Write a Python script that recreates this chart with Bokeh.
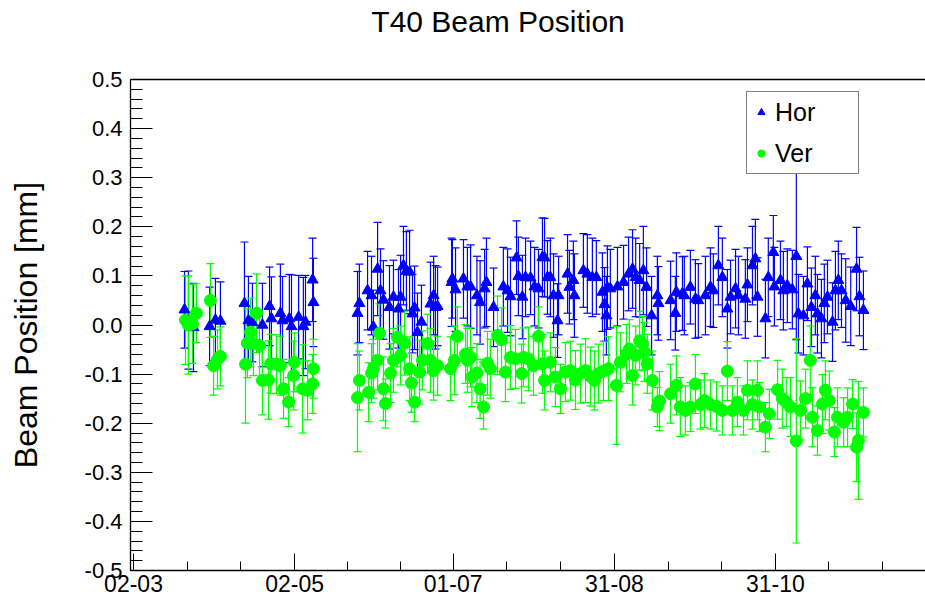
from bokeh.plotting import figure
from bokeh.models import (FixedTicker, Legend, LegendItem, LinearAxis,
                          ColumnDataSource, PrintfTickFormatter, Range1d)
from bokeh.embed import file_html
from bokeh.resources import INLINE

# ---------------- data ----------------
title_text = "T40 Beam Position"
y_label = "Beam Position [mm]"
# days counted from 02-03
x_tick_days = [0, 61, 121, 182, 243]
x_tick_labels = ["02-03", "02-05", "01-07", "31-08", "31-10"]
y_tick_values = [-0.5, -0.4, -0.3, -0.2, -0.1, 0.0, 0.1, 0.2, 0.3, 0.4, 0.5]

hor_day = [19.3, 20.8, 22.7, 28.8, 31.0, 32.9, 42.0, 43.5, 45.0, 48.8, 51.5, 52.2,
           55.6, 56.4, 59.0, 59.8, 62.5, 64.3, 65.1, 67.8, 68.1,
           84.8, 85.5, 88.6, 90.1, 90.8, 92.4, 93.5, 94.6, 96.9, 98.4, 100.3, 101.1,
           102.2, 103.3, 104.5, 105.6, 106.4, 107.5, 109.0, 112.4, 113.6, 114.3, 115.1,
           120.4, 120.7, 121.9, 124.9, 126.4, 127.6, 130.0, 131.2, 132.9, 133.6, 136.3,
           140.0, 141.6, 142.7, 145.0, 145.7, 147.2, 148.4, 150.3, 151.8, 153.3, 154.8,
           155.6, 156.7, 157.8, 159.0, 160.5, 160.9, 164.3, 165.0, 166.5, 166.9, 170.3,
           171.8, 173.7, 175.2, 177.5, 178.3, 179.0, 179.4, 180.5, 183.2, 185.5, 187.4,
           188.9, 190.1, 191.6, 193.0, 194.2, 196.1, 198.3, 198.7, 203.3, 205.1, 205.5,
           207.8, 208.5, 210.8, 212.7, 213.8, 216.5, 218.4, 219.5, 221.4, 222.9, 224.8,
           226.0, 227.9, 229.0, 231.6, 232.4, 234.3, 235.4, 236.2, 239.2, 240.3, 242.2,
           242.6, 244.9, 246.0, 247.5, 249.4, 250.9, 251.7, 253.6, 255.1, 256.6, 258.1,
           258.9, 260.4, 261.5, 262.7, 264.6, 265.7, 266.8, 268.0, 269.6, 271.5, 273.7,
           274.8, 276.3]
hor_pos = [0.031, 0.010, -0.005, -0.003, 0.010, 0.008, 0.044, 0.009, 0.005, 0.000, 0.038, 0.013,
           0.024, 0.009, 0.013, -0.003, 0.016, -0.003, 0.006, 0.092, 0.046,
           0.024, 0.044, 0.070, 0.060, -0.004, 0.114, 0.070, 0.051, 0.036, 0.057, 0.033, 0.057,
           0.121, 0.110, 0.108, 0.023, 0.035, -0.015, 0.006, 0.043, 0.060, 0.036, 0.038,
           0.087, 0.094, 0.072, 0.094, 0.078, 0.078, 0.060, 0.046, 0.074, 0.087, 0.036,
           0.078, 0.070, 0.058, 0.137, 0.099, 0.057, 0.097, 0.096, 0.078, 0.074, 0.138,
           0.137, 0.097, 0.097, 0.060, 0.009, 0.060, 0.104, 0.077, 0.091, 0.060, 0.111,
           0.104, 0.097, 0.097, 0.067, 0.042, 0.019, 0.076, 0.074, 0.078, 0.087, 0.104,
           0.114, 0.097, 0.091, 0.111, 0.077, 0.019, 0.060, 0.044, 0.050, 0.024, 0.067,
           0.064, 0.060, 0.077, 0.053, 0.050, 0.060, 0.077, 0.070, 0.121, 0.097, 0.033,
           0.057, 0.074, 0.060, 0.053, 0.082, 0.121, 0.135, 0.057, 0.013, 0.097, 0.148,
           0.078, 0.091, 0.070, 0.080, 0.072, 0.140, 0.023, 0.019, 0.084, 0.036, 0.060,
           0.023, 0.013, 0.044, 0.057, 0.006, 0.070, 0.091, 0.070, 0.050, 0.038, 0.114,
           0.058, 0.030]
hor_err = [0.078, 0.100, 0.090, 0.080, 0.085, 0.080, 0.125, 0.090, 0.080, 0.085, 0.080, 0.085,
           0.100, 0.090, 0.090, 0.105, 0.085, 0.100, 0.095, 0.085, 0.090,
           0.085, 0.080, 0.080, 0.080, 0.075, 0.095, 0.085, 0.080, 0.085, 0.075, 0.080, 0.085,
           0.080, 0.080, 0.085, 0.080, 0.085, 0.080, 0.075, 0.085, 0.080, 0.085, 0.080,
           0.090, 0.080, 0.085, 0.080, 0.080, 0.085, 0.080, 0.085, 0.080, 0.090, 0.080,
           0.080, 0.085, 0.080, 0.075, 0.080, 0.085, 0.080, 0.075, 0.080, 0.080, 0.080,
           0.080, 0.075, 0.080, 0.085, 0.075, 0.080, 0.080, 0.075, 0.080, 0.085, 0.075,
           0.080, 0.080, 0.075, 0.080, 0.075, 0.080, 0.085, 0.080, 0.080, 0.075, 0.075,
           0.080, 0.080, 0.075, 0.090, 0.080, 0.080, 0.080, 0.075, 0.080, 0.075, 0.080,
           0.075, 0.080, 0.075, 0.080, 0.075, 0.080, 0.080, 0.075, 0.080, 0.080, 0.080,
           0.075, 0.080, 0.080, 0.080, 0.075, 0.080, 0.080, 0.080, 0.080, 0.080, 0.075,
           0.080, 0.080, 0.080, 0.075, 0.080, 0.170, 0.080, 0.080, 0.075, 0.080, 0.080,
           0.080, 0.080, 0.080, 0.075, 0.080, 0.080, 0.080, 0.075, 0.085, 0.080, 0.085,
           0.080, 0.080]

ver_day = [19.7, 20.8, 22.3, 23.8, 29.1, 30.3, 31.8, 32.9, 42.4, 43.1, 44.3, 45.4,
           46.6, 47.7, 48.8, 51.1, 51.9, 54.1, 55.6, 56.8, 58.7, 60.6, 60.9, 64.0,
           65.9, 67.8, 68.1,
           84.8, 85.5, 89.0, 90.1, 90.8, 92.4, 93.1, 94.6, 95.4, 97.3, 98.4, 99.9,
           101.1, 102.6, 104.5, 105.2, 106.4, 108.3, 109.4, 111.3, 112.4, 113.6, 115.1,
           120.0, 121.5, 122.6, 125.7, 126.4, 127.6, 128.1, 130.0, 131.2, 132.5, 134.0,
           135.1, 137.8, 139.3, 140.8, 142.7, 144.6, 146.9, 147.6, 149.5, 151.4, 153.3,
           154.8, 155.6, 157.8, 159.7, 161.6, 163.5, 165.4, 167.3, 169.2, 171.1, 173.0,
           174.5, 176.0, 177.9, 179.8, 182.8, 184.3, 186.6, 187.7, 188.9, 190.1, 191.6,
           192.7, 193.4, 194.5, 196.4, 198.3, 199.1, 203.3, 205.5, 207.0, 208.9, 210.8,
           212.7, 214.6, 216.1, 218.4, 220.7, 222.9, 224.8, 226.7, 228.6, 230.9, 232.4,
           234.3, 236.2, 236.9, 239.2, 240.7, 243.8, 245.6, 247.1, 248.7, 250.9, 252.5,
           254.4, 256.2, 257.0, 258.9, 260.8, 261.9, 263.4, 265.3, 266.5, 268.8, 270.3,
           272.2, 273.7, 274.4, 276.3]
ver_pos = [0.010, 0.000, 0.002, 0.024, 0.050, -0.083, -0.070, -0.064, -0.080, -0.037, -0.015, -0.038,
           0.024, -0.042, -0.113, -0.112, -0.079, -0.080, -0.083, -0.130, -0.157, -0.103, -0.076, -0.130,
           -0.133, -0.120, -0.089,
           -0.148, -0.113, -0.137, -0.098, -0.089, -0.072, -0.017, -0.130, -0.160, -0.098, -0.072, -0.025,
           -0.062, -0.037, -0.089, -0.118, -0.157, -0.096, -0.072, -0.038, -0.072, -0.093, -0.083,
           -0.089, -0.072, -0.023, -0.059, -0.072, -0.066, -0.106, -0.098, -0.130, -0.167, -0.078,
           -0.089, -0.021, -0.030, -0.096, -0.066, -0.069, -0.099, -0.066, -0.069, -0.083, -0.023,
           -0.079, -0.113, -0.076, -0.106, -0.130, -0.096, -0.093, -0.112, -0.099, -0.093, -0.105,
           -0.113, -0.099, -0.094, -0.089, -0.123, -0.076, -0.059, -0.049, -0.103, -0.062, -0.032,
           -0.038, -0.055, -0.079, -0.113, -0.167, -0.155, -0.140, -0.123, -0.167, -0.174, -0.167,
           -0.120, -0.162, -0.154, -0.162, -0.166, -0.174, -0.094, -0.174, -0.157, -0.174, -0.133,
           -0.162, -0.133, -0.167, -0.208, -0.181, -0.132, -0.150, -0.157, -0.167, -0.236, -0.174,
           -0.150, -0.072, -0.188, -0.215, -0.161, -0.133, -0.154, -0.218, -0.188, -0.198, -0.188,
           -0.161, -0.249, -0.235, -0.178]
ver_err = [0.090, 0.100, 0.080, 0.060, 0.075, 0.060, 0.060, 0.060, 0.120, 0.070, 0.070, 0.065,
           0.080, 0.070, 0.070, 0.080, 0.060, 0.060, 0.060, 0.060, 0.050, 0.070, 0.060, 0.090,
           0.060, 0.060, 0.060,
           0.110, 0.060, 0.060, 0.060, 0.060, 0.060, 0.060, 0.065, 0.050, 0.060, 0.065, 0.060,
           0.060, 0.065, 0.065, 0.060, 0.040, 0.065, 0.060, 0.060, 0.065, 0.060, 0.060,
           0.065, 0.070, 0.060, 0.060, 0.065, 0.060, 0.060, 0.060, 0.060, 0.045, 0.065,
           0.060, 0.080, 0.065, 0.060, 0.065, 0.060, 0.060, 0.060, 0.065, 0.060, 0.060,
           0.060, 0.060, 0.060, 0.060, 0.050, 0.060, 0.060, 0.060, 0.060, 0.065, 0.060,
           0.060, 0.060, 0.060, 0.065, 0.120, 0.060, 0.060, 0.060, 0.060, 0.060, 0.060,
           0.055, 0.060, 0.060, 0.060, 0.040, 0.060, 0.060, 0.060, 0.060, 0.050, 0.050,
           0.060, 0.050, 0.055, 0.050, 0.050, 0.050, 0.060, 0.050, 0.050, 0.050, 0.060,
           0.050, 0.060, 0.050, 0.050, 0.050, 0.060, 0.060, 0.050, 0.060, 0.208, 0.060,
           0.060, 0.070, 0.060, 0.050, 0.060, 0.060, 0.060, 0.050, 0.060, 0.050, 0.060,
           0.050, 0.070, 0.120, 0.050]

HOR_COLOR = "#0000ff"
VER_COLOR = "#00ff00"
FONT = "Liberation Sans"
TITLE_CENTER_DAY = 138   # x position (in axis days) the title is centred on


def make_source(days, pos, err):
    return ColumnDataSource(dict(
        x=days, y=pos,
        lo=[p - e for p, e in zip(pos, err)],
        hi=[p + e for p, e in zip(pos, err)],
    ))


hor_src = make_source(hor_day, hor_pos, hor_err)
ver_src = make_source(ver_day, ver_pos, ver_err)

p = figure(width=925, height=599,
           x_range=Range1d(-1.14, 299.8), y_range=Range1d(-0.5, 0.5),
           output_backend="svg", toolbar_location=None,
           min_border_left=130, min_border_right=0,
           min_border_top=79, min_border_bottom=29,
           background_fill_color="white", border_fill_color="white",
           outline_line_color=None)
p.grid.visible = False
p.title.visible = False

# ---------------- marks ----------------
for src, color in ((hor_src, HOR_COLOR), (ver_src, VER_COLOR)):
    p.segment(x0="x", y0="lo", x1="x", y1="hi", source=src,
              line_color=color, line_width=1.2)
    p.scatter(x="x", y="lo", source=src, marker="dash", size=8,
              line_color=color, line_width=1.2)
    p.scatter(x="x", y="hi", source=src, marker="dash", size=8,
              line_color=color, line_width=1.2)

r_hor = p.scatter(x="x", y="y", source=hor_src, marker="triangle", size=11,
                  fill_color=HOR_COLOR, line_color=HOR_COLOR)
r_ver = p.scatter(x="x", y="y", source=ver_src, marker="circle", size=12,
                  fill_color=VER_COLOR, line_color=VER_COLOR)

# ---------------- axes ----------------
x_minor = []
for a, b in zip(x_tick_days[:-1], x_tick_days[1:]):
    x_minor += [a + (b - a) / 3, a + 2 * (b - a) / 3]
step = (x_tick_days[-1] - x_tick_days[0]) / (len(x_tick_days) - 1) / 3
x_minor += [x_tick_days[-1] + step, x_tick_days[-1] + 2 * step]

xa = p.xaxis[0]
xa.ticker = FixedTicker(ticks=x_tick_days, minor_ticks=x_minor)
xa.major_label_overrides = {d: lab for d, lab in zip(x_tick_days, x_tick_labels)}
xa.major_tick_in = 17
xa.major_tick_out = 0
xa.minor_tick_in = 9
xa.minor_tick_out = 0
xa.major_label_standoff = 4
xa.major_label_text_font = FONT
xa.major_label_text_font_size = "23px"
xa.major_label_text_color = "black"
xa.axis_line_color = "black"
xa.axis_line_width = 1.3
xa.major_tick_line_color = "black"
xa.minor_tick_line_color = "black"

y_minor = [round(-0.5 + 0.02 * i, 2) for i in range(51)]
ya = p.yaxis[0]
ya.ticker = FixedTicker(ticks=y_tick_values, minor_ticks=y_minor)
ya.formatter = PrintfTickFormatter(format="%.1f")
ya.major_tick_in = 22
ya.major_tick_out = 0
ya.minor_tick_in = 12
ya.minor_tick_out = 0
ya.major_label_standoff = 8
ya.major_label_text_font = FONT
ya.major_label_text_font_size = "22px"
ya.major_label_text_color = "black"
ya.axis_label = y_label
ya.axis_label_text_font = FONT
ya.axis_label_text_font_size = "32px"
ya.axis_label_text_font_style = "normal"
ya.axis_label_text_color = "black"
ya.axis_label_standoff = 38
ya.axis_line_color = "black"
ya.axis_line_width = 1.3
ya.major_tick_line_color = "black"
ya.minor_tick_line_color = "black"

# top frame line
top = LinearAxis(ticker=FixedTicker(ticks=[]), major_tick_in=0, major_tick_out=0,
                 minor_tick_in=0, minor_tick_out=0, major_label_standoff=0,
                 major_label_text_font_size="0px", axis_line_color="black",
                 axis_line_width=1.3)
p.add_layout(top, "above")

# title: the single tick label of an invisible top axis
title_axis = LinearAxis(ticker=FixedTicker(ticks=[TITLE_CENTER_DAY]),
                        major_label_overrides={TITLE_CENTER_DAY: title_text},
                        major_tick_in=0, major_tick_out=0,
                        minor_tick_in=0, minor_tick_out=0,
                        major_label_standoff=42,
                        major_label_text_font=FONT,
                        major_label_text_font_size="30px",
                        major_label_text_color="black",
                        axis_line_color=None)
p.add_layout(title_axis, "above")

# ---------------- legend ----------------
legend = Legend(items=[LegendItem(label="Hor", renderers=[r_hor]),
                       LegendItem(label="Ver", renderers=[r_ver])],
                location=(616, 396),
                padding=5, spacing=11, margin=0,
                glyph_width=18, glyph_height=30, label_height=30,
                label_standoff=5, label_width=78,
                label_text_font=FONT, label_text_font_size="25px",
                label_text_color="black",
                border_line_color="black", border_line_width=1.5,
                background_fill_color="white", background_fill_alpha=1.0)
p.add_layout(legend)

open("out.html", "w").write(file_html(p, INLINE))
